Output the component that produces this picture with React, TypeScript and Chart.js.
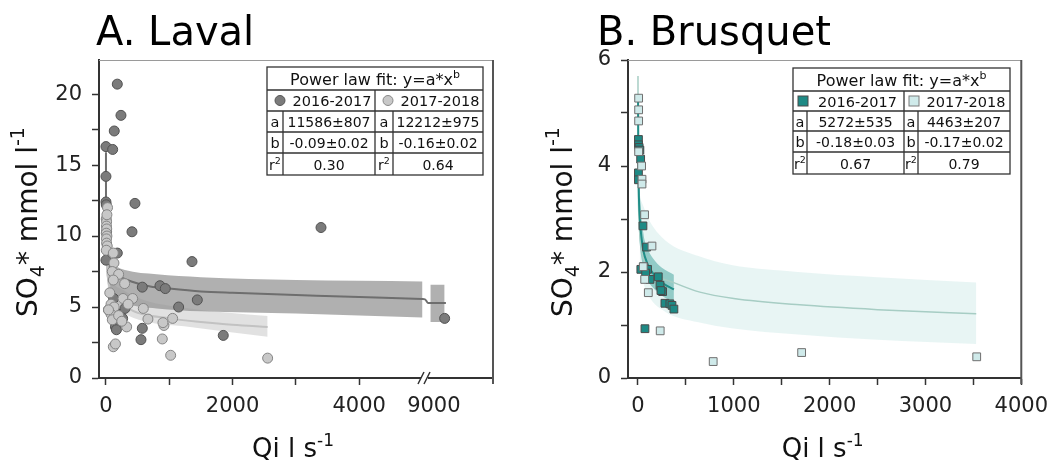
import React, { useEffect, useRef } from "react";
import { Chart, registerables } from "chart.js";
Chart.register(...registerables);

const FONT = "'DejaVu Sans', Verdana, sans-serif";
const W = 1057;
const H = 466;

// ---------------- A. Laval ----------------
const lavalDark1617X = [179, 237, 131, 0, 106, 0, 0, 458, 411, 179, 0, 1359, 574, 853, 937, 1443, 1148, 158, 150, 165, 263, 574, 553, 1853, 3397, 9170, 40, 200, 300, 120, 10, 5];
const lavalDark1617Y = [20.7, 18.5, 17.4, 16.3, 16.1, 14.2, 12.4, 12.3, 10.3, 8.8, 8.3, 8.2, 6.4, 6.5, 6.3, 5.5, 5.0, 3.9, 3.6, 3.4, 4.2, 3.5, 2.7, 3.0, 10.6, 4.2, 4.8, 4.5, 4.9, 5.6, 10.3, 12.2];
const lavalLight1718X = [5, 10, 8, 12, 5, 15, 8, 10, 20, 5, 25, 15, 116, 126, 100, 200, 116, 295, 269, 421, 80, 130, 350, 80, 100, 590, 663, 1053, 916, 900, 327, 890, 1022, 116, 150, 2554, 200, 250, 60, 40];
const lavalLight1718Y = [11.2, 11.0, 10.7, 10.5, 10.2, 10.0, 9.8, 9.5, 9.3, 9.0, 12.0, 11.5, 8.8, 8.1, 7.5, 7.3, 6.9, 6.65, 5.6, 5.6, 5.2, 5.0, 5.2, 4.5, 4.1, 4.9, 4.15, 4.2, 3.7, 3.9, 3.6, 2.75, 1.6, 2.2, 2.4, 1.4, 4.4, 4.0, 6.0, 4.8];

const lavalFit1617X = [0.03, 0.2, 1, 5, 20, 50, 100, 200, 400, 700, 1000, 1500, 2000, 3000, 4000, 5000, 5040, 8907, 9190];
const lavalFit1617Y = [15.9, 13.4, 11.6, 10.0, 8.9, 8.1, 7.6, 7.2, 6.8, 6.45, 6.3, 6.1, 6.0, 5.85, 5.7, 5.56, 5.54, 5.29, 5.28];
const lavalBand1617X = [10, 50, 150, 300, 800, 1500, 3000, 5000];
const lavalBand1617Hi = [8.9, 8.4, 7.9, 7.6, 7.3, 7.1, 6.9, 6.8];
const lavalBand1617Lo = [7.2, 6.5, 5.8, 5.3, 4.9, 4.7, 4.55, 4.27];
const lavalBand1617bX = [8944, 9170];
const lavalBand1617bHi = [6.57, 6.57];
const lavalBand1617bLo = [3.95, 3.95];

const lavalFit1718X = [1, 5, 10, 30, 60, 120, 274, 500, 1000, 1500, 2000, 2554];
const lavalFit1718Y = [12.2, 9.6, 8.5, 7.1, 6.3, 5.6, 5.1, 4.6, 4.2, 3.95, 3.75, 3.6];
const lavalBand1718X = [10, 50, 274, 600, 1327, 2554];
const lavalBand1718Hi = [9.0, 7.5, 6.2, 5.5, 4.9, 4.36];
const lavalBand1718Lo = [7.2, 5.8, 4.6, 4.0, 3.6, 2.9];

const lavalXTicks = [0, 1000, 2000, 3000, 4000, 9000];
const lavalXLabels = ["0", "", "2000", "", "4000", "9000"];
const lavalYTicks = [0, 2.5, 5, 7.5, 10, 12.5, 15, 17.5, 20];
const lavalYLabels = ["0", "", "5", "", "10", "", "15", "", "20"];
const BREAK_SHIFT = 3820;

const lavalNames = ["2016-2017", "2017-2018"];
const lavalA = ["11586±807", "12212±975"];
const lavalB = ["-0.09±0.02", "-0.16±0.02"];
const lavalR2 = ["0.30", "0.64"];

// ---------------- B. Brusquet ----------------
const brus1617X = [5, 5, 12, 20, 28, 5, 5, 52, 90, 30, 60, 100, 80, 125, 212, 230, 257, 240, 281, 333, 355, 375, 73];
const brus1617Y = [4.5, 4.4, 4.35, 4.3, 4.13, 3.87, 3.74, 2.87, 2.47, 2.05, 2.1, 2.05, 1.98, 1.86, 1.91, 1.75, 1.63, 1.65, 1.41, 1.40, 1.37, 1.30, 0.93];
const brus1718X = [7, 7, 7, 7, 38, 42, 42, 69, 146, 55, 70, 108, 232, 785, 1708, 3535];
const brus1718Y = [5.28, 5.06, 4.85, 4.27, 4.0, 3.75, 3.66, 3.08, 2.49, 2.1, 1.86, 1.61, 0.89, 0.31, 0.48, 0.40];

const brusFit1617X = [1, 3, 8, 20, 40, 55, 100, 160, 250, 375];
const brusFit1617Y = [5.27, 4.5, 3.6, 3.0, 2.6, 2.41, 2.15, 1.97, 1.8, 1.67];
const brusBand1617X = [5, 20, 55, 100, 160, 250, 375];
const brusBand1617Hi = [4.3, 3.5, 2.75, 2.45, 2.25, 2.08, 1.95];
const brusBand1617Lo = [2.9, 2.5, 2.1, 1.85, 1.7, 1.55, 1.43];

const brusFit1718X = [0.25, 1, 5, 15, 40, 80, 150, 375, 646, 1000, 1688, 2500, 3530];
const brusFit1718Y = [5.7, 4.46, 3.4, 2.85, 2.4, 2.15, 1.98, 1.8, 1.62, 1.5, 1.38, 1.29, 1.21];
const brusBand1718X = [20, 55, 110, 283, 630, 976, 1670, 2500, 3530];
const brusBand1718Hi = [3.4, 3.25, 3.0, 2.6, 2.3, 2.13, 2.0, 1.9, 1.8];
const brusBand1718Lo = [2.1, 1.8, 1.55, 1.25, 1.05, 0.94, 0.82, 0.72, 0.64];

const brusXTicks = [0, 500, 1000, 1500, 2000, 2500, 3000, 3500, 4000];
const brusXLabels = ["0", "", "1000", "", "2000", "", "3000", "", "4000"];
const brusYTicks = [0, 1, 2, 3, 4, 5, 6];
const brusYLabels = ["0", "", "2", "", "4", "", "6"];

const brusNames = ["2016-2017", "2017-2018"];
const brusA = ["5272±535", "4463±207"];
const brusB = ["-0.18±0.03", "-0.17±0.02"];
const brusR2 = ["0.67", "0.79"];

// ---------------- helpers ----------------
type Part = [string, number, number];

function rich(ctx: CanvasRenderingContext2D, parts: Part[], x: number, y: number, align: "left" | "center" = "left", color = "#111") {
  ctx.save();
  ctx.fillStyle = color;
  ctx.textAlign = "left";
  ctx.textBaseline = "alphabetic";
  let total = 0;
  const ws = parts.map(([t, s]) => {
    ctx.font = `${s}px ${FONT}`;
    const w = ctx.measureText(t).width;
    total += w;
    return w;
  });
  let cx = align === "center" ? x - total / 2 : x;
  parts.forEach(([t, s, dy], i) => {
    ctx.font = `${s}px ${FONT}`;
    ctx.fillText(t, cx, y + dy);
    cx += ws[i];
  });
  ctx.restore();
}

const yTitle: Part[] = [["SO", 28, 0], ["4", 19, 7], ["* mmol l", 28, 0], ["-1", 19, -13]];
const xTitle: Part[] = [["Qi l s", 26, 0], ["-1", 17, -11]];

interface TableSpec {
  cols: number[];
  rows: number[];
  names: string[];
  a: string[];
  b: string[];
  r2: string[];
  marker: (ctx: CanvasRenderingContext2D, x: number, y: number, k: number) => void;
  markerDx: number;
  textDx: number;
}

function drawTable(ctx: CanvasRenderingContext2D, t: TableSpec) {
  const [x0, l1, mid, l2, x1] = t.cols;
  const r = t.rows;
  ctx.save();
  ctx.fillStyle = "#fff";
  ctx.fillRect(x0, r[0], x1 - x0, r[5] - r[0]);
  ctx.strokeStyle = "#333";
  ctx.lineWidth = 1.3;
  ctx.strokeRect(x0, r[0], x1 - x0, r[5] - r[0]);
  ctx.beginPath();
  for (let i = 1; i < 5; i++) {
    ctx.moveTo(x0, r[i]);
    ctx.lineTo(x1, r[i]);
  }
  ctx.moveTo(mid, r[1]);
  ctx.lineTo(mid, r[5]);
  ctx.moveTo(l1, r[2]);
  ctx.lineTo(l1, r[5]);
  ctx.moveTo(l2, r[2]);
  ctx.lineTo(l2, r[5]);
  ctx.stroke();
  const cy = (i: number) => (r[i] + r[i + 1]) / 2 + 5.5;
  rich(ctx, [["Power law fit: y=a*x", 16, 0], ["b", 11, -7]], (x0 + x1) / 2, cy(0) + 0.5, "center");
  const halves = [[x0, mid], [mid, x1]];
  const lets = [[l1], [l2]];
  halves.forEach(([a, b], k) => {
    t.marker(ctx, a + t.markerDx, (r[1] + r[2]) / 2, k);
    rich(ctx, [[t.names[k], 14.5, 0]], (a + t.textDx + b) / 2, cy(1), "center");
    const le = lets[k][0];
    rich(ctx, [["a", 14.5, 0]], (a + le) / 2, cy(2), "center");
    rich(ctx, [["b", 14.5, 0]], (a + le) / 2, cy(3), "center");
    rich(ctx, [["r", 14, 0], ["2", 9.5, -6]], (a + le) / 2, cy(4), "center");
    rich(ctx, [[t.a[k], 14, 0]], (le + b) / 2, cy(2), "center");
    rich(ctx, [[t.b[k], 14, 0]], (le + b) / 2, cy(3), "center");
    rich(ctx, [[t.r2[k], 14, 0]], (le + b) / 2, cy(4), "center");
  });
  ctx.restore();
}

const pts = (xs: number[], ys: number[], tx: (v: number) => number = (v) => v) => xs.map((x, i) => ({ x: tx(x), y: ys[i] }));
const lavalTx = (x: number) => (x > 6000 ? x - BREAK_SHIFT : x);

function scatterDs(data: any[], fill: string, border: string, style: string, radius: number) {
  return { data, showLine: false, pointStyle: style, pointRadius: radius, pointBackgroundColor: fill, pointBorderColor: border, pointBorderWidth: 1, borderColor: border, backgroundColor: fill, fill: false };
}
function lineDs(data: any[], color: string, width: number) {
  return { data, borderColor: color, borderWidth: width, pointRadius: 0, fill: false, cubicInterpolationMode: "monotone" };
}
function bandHi(data: any[], color: string) {
  return { data, borderWidth: 0, borderColor: "rgba(0,0,0,0)", pointRadius: 0, fill: "+1", backgroundColor: color, cubicInterpolationMode: "monotone" };
}
function bandLo(data: any[]) {
  return { data, borderWidth: 0, borderColor: "rgba(0,0,0,0)", pointRadius: 0, fill: false, cubicInterpolationMode: "monotone" };
}

function axes(o: {
  xmin: number; xmax: number; xTicks: number[]; xLabels: string[]; hideTick?: number;
  ymin: number; ymax: number; yTicks: number[]; yLabels: string[]; yWidth: number;
}) {
  const tickFont = { family: FONT, size: 21 };
  return {
    x: {
      type: "linear",
      min: o.xmin,
      max: o.xmax,
      afterFit: (s: any) => { s.height = H - 378; },
      afterBuildTicks: (s: any) => { s.ticks = o.xTicks.map((v) => ({ value: v })); },
      ticks: {
        autoSkip: false, maxRotation: 0, minRotation: 0, padding: 9, color: "#222", font: tickFont,
        callback: (v: number, i: number) => o.xLabels[i] ?? "",
      },
      grid: {
        drawOnChartArea: false, drawTicks: true, tickLength: 7, tickWidth: 1.5,
        tickColor: (c: any) => (o.hideTick !== undefined && c.index === o.hideTick ? "rgba(0,0,0,0)" : "#333"),
      },
      border: { color: "#333", width: 2 },
    },
    y: {
      type: "linear",
      min: o.ymin,
      max: o.ymax,
      afterFit: (s: any) => { s.width = o.yWidth; },
      afterBuildTicks: (s: any) => { s.ticks = o.yTicks.map((v) => ({ value: v })); },
      ticks: {
        autoSkip: false, padding: 10, color: "#222", font: tickFont,
        callback: (v: number, i: number) => o.yLabels[i] ?? "",
      },
      grid: { drawOnChartArea: false, drawTicks: true, tickLength: 7, tickWidth: 1.5, tickColor: "#333" },
      border: { color: "#333", width: 2 },
    },
  };
}

function frame(ctx: CanvasRenderingContext2D, a: any) {
  ctx.save();
  ctx.strokeStyle = "#9a9a9a";
  ctx.lineWidth = 1;
  ctx.beginPath();
  ctx.moveTo(a.left, a.top + 0.5);
  ctx.lineTo(a.right, a.top + 0.5);
  ctx.stroke();
  ctx.strokeStyle = "#555";
  ctx.lineWidth = 2;
  ctx.beginPath();
  ctx.moveTo(a.right, a.top);
  ctx.lineTo(a.right, a.bottom + 6);
  ctx.stroke();
  ctx.restore();
}

function buildLeft(): any {
  const overlay = {
    id: "lavalOverlay",
    afterDraw(chart: any) {
      const ctx: CanvasRenderingContext2D = chart.ctx;
      const a = chart.chartArea;
      frame(ctx, a);
      // axis break
      const bx = chart.scales.x.getPixelForValue(5008);
      ctx.save();
      ctx.fillStyle = "#fff";
      ctx.fillRect(bx - 2, a.bottom - 3, 7, 6);
      ctx.strokeStyle = "#333";
      ctx.lineWidth = 1.5;
      ctx.beginPath();
      ctx.moveTo(bx - 5, a.bottom + 6);
      ctx.lineTo(bx + 1, a.bottom - 6);
      ctx.moveTo(bx + 1, a.bottom + 6);
      ctx.lineTo(bx + 7, a.bottom - 6);
      ctx.stroke();
      ctx.restore();
      rich(ctx, [["A. Laval", 40, 0]], 96, 45, "left", "#000");
      ctx.save();
      ctx.translate(37, 222);
      ctx.rotate(-Math.PI / 2);
      rich(ctx, yTitle, 0, 0, "center");
      ctx.restore();
      rich(ctx, xTitle, (a.left + a.right) / 2 - 3, 457, "center");
      drawTable(ctx, {
        cols: [267, 283, 375, 393, 483],
        rows: [67, 90, 111, 132, 153, 175],
        names: lavalNames, a: lavalA, b: lavalB, r2: lavalR2,
        markerDx: 13, textDx: 22,
        marker: (c, x, y, k) => {
          c.save();
          c.beginPath();
          c.arc(x, y, 5, 0, Math.PI * 2);
          c.fillStyle = k === 0 ? "#7b7b7b" : "#c8c8c8";
          c.fill();
          c.strokeStyle = k === 0 ? "#555" : "#888";
          c.lineWidth = 1;
          c.stroke();
          c.restore();
        },
      });
    },
  };
  return {
    type: "line",
    data: {
      datasets: [
        scatterDs(pts(lavalLight1718X, lavalLight1718Y, lavalTx), "#c8c8c8", "#858585", "circle", 5),
        scatterDs(pts(lavalDark1617X, lavalDark1617Y, lavalTx), "#7b7b7b", "#525252", "circle", 5),
        lineDs(pts(lavalFit1718X, lavalFit1718Y, lavalTx), "#c2c2c2", 2),
        lineDs(pts(lavalFit1617X, lavalFit1617Y, lavalTx), "#6e6e6e", 2),
        bandHi(pts(lavalBand1617X, lavalBand1617Hi, lavalTx), "rgba(150,150,150,0.75)"),
        bandLo(pts(lavalBand1617X, lavalBand1617Lo, lavalTx)),
        bandHi(pts(lavalBand1617bX, lavalBand1617bHi, lavalTx), "rgba(150,150,150,0.75)"),
        bandLo(pts(lavalBand1617bX, lavalBand1617bLo, lavalTx)),
        bandHi(pts(lavalBand1718X, lavalBand1718Hi, lavalTx), "rgba(200,200,200,0.55)"),
        bandLo(pts(lavalBand1718X, lavalBand1718Lo, lavalTx)),
      ],
    },
    options: {
      responsive: false,
      animation: false,
      events: [],
      layout: { padding: { left: 0, top: 60, right: W - 493, bottom: 0 } },
      plugins: { legend: { display: false }, tooltip: { enabled: false }, title: { display: false } },
      scales: axes({
        xmin: -110, xmax: 6114, xTicks: lavalXTicks.map(lavalTx), xLabels: lavalXLabels, hideTick: 5,
        ymin: 0, ymax: 22.4, yTicks: lavalYTicks, yLabels: lavalYLabels, yWidth: 99,
      }),
    },
    plugins: [overlay],
  };
}

function buildRight(): any {
  const overlay = {
    id: "brusOverlay",
    afterDraw(chart: any) {
      const ctx: CanvasRenderingContext2D = chart.ctx;
      const a = chart.chartArea;
      frame(ctx, a);
      rich(ctx, [["B. Brusquet", 40, 0]], 597, 45, "left", "#000");
      ctx.save();
      ctx.translate(572, 222);
      ctx.rotate(-Math.PI / 2);
      rich(ctx, yTitle, 0, 0, "center");
      ctx.restore();
      rich(ctx, xTitle, (a.left + a.right) / 2 - 2, 457, "center");
      drawTable(ctx, {
        cols: [793, 807, 904, 918, 1010],
        rows: [68, 91, 111, 131, 152, 174],
        names: brusNames, a: brusA, b: brusB, r2: brusR2,
        markerDx: 10, textDx: 18,
        marker: (c, x, y, k) => {
          c.save();
          c.fillStyle = k === 0 ? "#1e8a85" : "#cfeaea";
          c.fillRect(x - 5, y - 5, 10, 10);
          c.strokeStyle = k === 0 ? "#4a4a4a" : "#7a7a7a";
          c.lineWidth = 1;
          c.strokeRect(x - 5, y - 5, 10, 10);
          c.restore();
        },
      });
    },
  };
  return {
    type: "line",
    data: {
      datasets: [
        scatterDs(pts(brus1718X, brus1718Y), "#cfeaea", "#6f6f6f", "rect", 5.5),
        scatterDs(pts(brus1617X, brus1617Y), "#1e8a85", "#4a4a4a", "rect", 5.5),
        lineDs(pts(brusFit1617X, brusFit1617Y), "#208e88", 2),
        lineDs(pts(brusFit1718X, brusFit1718Y), "#a7cdc4", 1.5),
        bandHi(pts(brusBand1617X, brusBand1617Hi), "rgba(40,150,145,0.45)"),
        bandLo(pts(brusBand1617X, brusBand1617Lo)),
        bandHi(pts(brusBand1718X, brusBand1718Hi), "rgba(150,210,205,0.22)"),
        bandLo(pts(brusBand1718X, brusBand1718Lo)),
      ],
    },
    options: {
      responsive: false,
      animation: false,
      events: [],
      layout: { padding: { left: 628 - 100, top: 60, right: W - 1022, bottom: 0 } },
      plugins: { legend: { display: false }, tooltip: { enabled: false }, title: { display: false } },
      scales: axes({
        xmin: -104, xmax: 4000, xTicks: brusXTicks, xLabels: brusXLabels,
        ymin: 0, ymax: 6, yTicks: brusYTicks, yLabels: brusYLabels, yWidth: 100,
      }),
    },
    plugins: [overlay],
  };
}

export default function App() {
  const leftRef = useRef<HTMLCanvasElement>(null);
  const rightRef = useRef<HTMLCanvasElement>(null);
  useEffect(() => {
    const c1 = new Chart(leftRef.current as HTMLCanvasElement, buildLeft());
    const c2 = new Chart(rightRef.current as HTMLCanvasElement, buildRight());
    return () => {
      c1.destroy();
      c2.destroy();
    };
  }, []);
  return (
    <div style={{ position: "absolute", left: 0, top: 0, width: W, height: H, background: "#fff" }}>
      <canvas ref={leftRef} width={W} height={H} style={{ position: "absolute", left: 0, top: 0 }} />
      <canvas ref={rightRef} width={W} height={H} style={{ position: "absolute", left: 0, top: 0 }} />
    </div>
  );
}
